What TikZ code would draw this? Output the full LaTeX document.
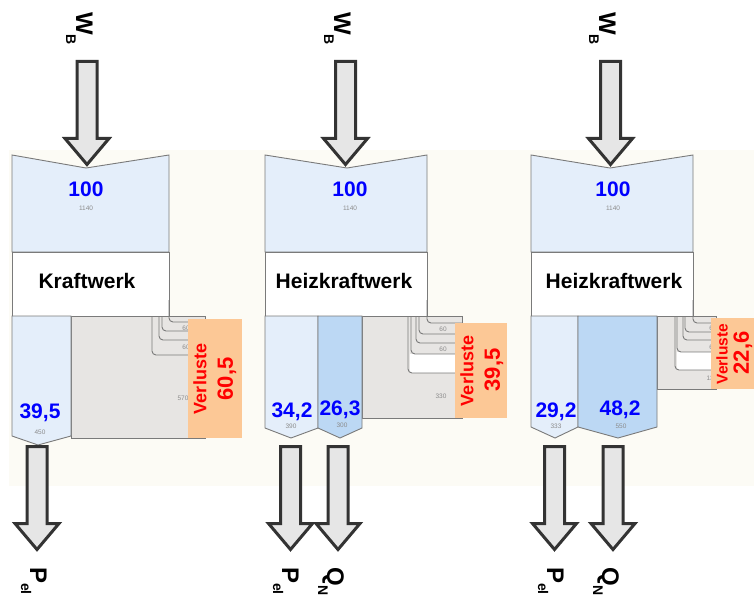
\documentclass[tikz,border=0pt]{standalone}
\usepackage{fontspec}
\setmainfont{Liberation Sans}
\usepackage{tikz}

\definecolor{creambg}{HTML}{FCFBF5}
\definecolor{flowblue}{HTML}{E4EEFA}
\definecolor{heatblue}{HTML}{BCD8F4}
\definecolor{lossfill}{HTML}{E7E5E3}
\definecolor{lossbox}{HTML}{FCC896}
\definecolor{rimgray}{HTML}{7A7A7A}
\definecolor{tinygray}{HTML}{8C8C8C}
\definecolor{arrdark}{HTML}{333333}
\definecolor{arrfill}{HTML}{E6E6E6}

% thick grey block arrow: centre x, top y, tip y
\newcommand{\blockarrow}[3]{%
  \draw[blockarr] (#1-10,#2) -- (#1+10,#2) -- (#1+10,#3-26) -- (#1+22,#3-26)
    -- (#1,#3) -- (#1-22,#3-26) -- (#1-10,#3-26) -- cycle;}
\newcommand{\sub}[2]{\raisebox{#1}{\bfseries\fontsize{14}{14}\selectfont #2}}

\begin{document}
\begin{tikzpicture}[x=1pt, y=-1pt,
    big/.style={font=\bfseries\fontsize{21}{21}\selectfont, inner sep=0pt, anchor=base},
    pct/.style={big, text=blue},
    tiny/.style={font=\fontsize{6.5}{6.5}\selectfont, text=tinygray, inner sep=0pt},
    rim/.style={draw=rimgray, line width=0.9pt},
    loss/.style={draw=rimgray, line width=0.9pt, rounded corners=4pt},
    blockarr/.style={draw=arrdark, fill=arrfill, line width=3pt, miter limit=10},
    flowlbl/.style={font=\bfseries\fontsize{24}{24}\selectfont, rotate=-90, anchor=base west, inner sep=0pt},
    verl/.style={text=red, font=\bfseries\fontsize{18}{18}\selectfont, rotate=90, inner sep=0pt},
    verlnum/.style={verl, font=\bfseries\fontsize{22}{22}\selectfont}]
  \useasboundingbox (0,0) rectangle (754,596);
  \fill[creambg] (9,150) rectangle (754,486);

  % fuel input and plant name, same for all three
  \foreach \l/\r/\d/\ta/\tb/\name [count=\i] in
      {12/169/86/86/87/Kraftwerk, 265/427/347/350/344/Heizkraftwerk, 531/693/610/613/614/Heizkraftwerk} {
    \draw[rim, fill=flowblue] (\l,155) -- (\d,168) -- (\r,155) -- (\r,252) -- (\l,252) -- cycle;
    \draw[rim, fill=white] (\l,252) rectangle (\r,316);
    \node[pct] (in\i) at (\ta,196) {100};
    \node[tiny] (inval\i) at (\ta,208) {1140};
    \node[big] (plant\i) at (\tb,288) {\name};
  }

  % Kraftwerk: power and losses
  \draw[rim, fill=lossfill] (71,316) rectangle (205,438);
  \draw[loss] (169,300) |- (205,322);
  \draw[loss] (162,316) |- (205,331);
  \draw[loss] (159,316) |- (205,340);
  \draw[loss] (152,316) |- (205,355);
  \draw[rim, fill=flowblue] (12,316) -- (71,316) -- (71,436) -- (38,445) -- (12,436) -- cycle;
  \node[tiny] (l1a) at (186,328) {60};
  \node[tiny] (l1b) at (186,347) {60};
  \node[tiny] (l1c) at (183,398) {570};
  \node[pct] (el1) at (40,418) {39,5};
  \node[tiny] (elval1) at (40,432) {450};
  \fill[lossbox] (188,319) rectangle (242,438);
  \node[verl] (vl1) at (200,379) {Verluste};
  \node[verlnum] (vn1) at (227,379) {60,5};

  % Heizkraftwerk, first case
  \draw[rim, fill=lossfill] (362,316) rectangle (462,418);
  \fill[white] (410,354) rectangle (462,373);
  \draw[loss] (427,300) |- (462,323);
  \draw[loss] (419,316) |- (462,334);
  \draw[loss] (416,316) |- (462,343);
  \draw[loss] (411,316) |- (462,354);
  \draw[loss] (408,316) |- (462,373);
  \draw[rim, fill=flowblue] (265,316) -- (318,316) -- (318,428) -- (291,438) -- (265,428) -- cycle;
  \draw[rim, fill=heatblue] (318,316) -- (362,316) -- (362,428) -- (340,438) -- (318,428) -- cycle;
  \node[tiny] (l2a) at (443,329) {60};
  \node[tiny] (l2b) at (443,349) {60};
  \node[tiny] (l2c) at (441,396) {330};
  \node[pct] (el2) at (292,417) {34,2};
  \node[tiny] (elval2) at (291,426) {390};
  \node[pct] (th2) at (340,415) {26,3};
  \node[tiny] (thval2) at (342,425) {300};
  \fill[lossbox] (455,323) rectangle (507,418);
  \node[verl] (vl2) at (467,371) {Verluste};
  \node[verlnum] (vn2) at (494,370) {39,5};

  % Heizkraftwerk, second case
  \draw[rim, fill=lossfill] (657,316) rectangle (716,389);
  \fill[white] (677,352) rectangle (716,370);
  \draw[loss] (693,300) |- (716,323);
  \draw[loss] (685,316) |- (716,332);
  \draw[loss] (683,316) |- (716,340);
  \draw[loss] (677,316) |- (716,352);
  \draw[loss] (675,316) |- (716,370);
  \draw[rim, fill=flowblue] (531,316) -- (578,316) -- (578,427) -- (555,438) -- (531,427) -- cycle;
  \draw[rim, fill=heatblue] (578,316) -- (657,316) -- (657,427) -- (618,438) -- (578,427) -- cycle;
  \node[tiny] (l3a) at (713,328) {60};
  \node[tiny] (l3b) at (713,347) {60};
  \node[tiny] (l3c) at (712,378) {130};
  \node[pct] (el3) at (556,417) {29,2};
  \node[tiny] (elval3) at (556,426) {333};
  \node[pct] (th3) at (620,415) {48,2};
  \node[tiny] (thval3) at (621,426) {550};
  \fill[lossbox] (711,318) rectangle (760,389);
  \node[verl, font=\bfseries\fontsize{15.5}{15.5}\selectfont] (vl3) at (722,354) {Verluste};
  \node[verlnum, font=\bfseries\fontsize{22}{22}\selectfont] (vn3) at (743,353) {22,6};

  % arrows in and out
  \foreach \x in {87,345.5,610.5} \blockarrow{\x}{61.5}{164.5};
  \foreach \x in {37,290.5,338,554.5,613} \blockarrow{\x}{446.5}{549.5};

  \node[flowlbl] (wb1) at (76,12) {W\sub{-10pt}{B}};
  \node[flowlbl] (wb2) at (334,12) {W\sub{-10pt}{B}};
  \node[flowlbl] (wb3) at (599,12) {W\sub{-10pt}{B}};
  \node[flowlbl] (pel1) at (30,567) {P\sub{-9pt}{el}};
  \node[flowlbl] (pel2) at (282,567) {P\sub{-9pt}{el}};
  \node[flowlbl] (pel3) at (547,567) {P\sub{-9pt}{el}};
  \node[flowlbl] (qn2) at (327,567) {Q\sub{-9pt}{N}};
  \node[flowlbl] (qn3) at (602,567) {Q\sub{-9pt}{N}};
\end{tikzpicture}
\end{document}
